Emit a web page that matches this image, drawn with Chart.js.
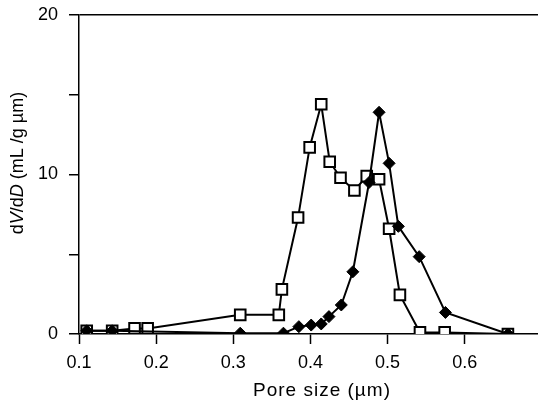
<!DOCTYPE html>
<html>
<head>
<meta charset="utf-8">
<script src="https://cdn.jsdelivr.net/npm/chart.js@4"></script>
<style>
  body { margin: 0; background: #fff; }
  #wrap { width: 538px; height: 402px; }
</style>
</head>
<body>
<div id="wrap"><canvas id="c" width="538" height="402"></canvas></div>
<script>
// Pore size distribution, two samples
const squareX = [0.11, 0.143, 0.172, 0.189, 0.309, 0.359, 0.363, 0.384, 0.399, 0.414, 0.425, 0.439, 0.457, 0.473, 0.489, 0.502, 0.516, 0.542, 0.574, 0.656];
const squareY = [0.2, 0.2, 0.35, 0.35, 1.2, 1.2, 2.8, 7.3, 11.7, 14.4, 10.8, 9.8, 9.0, 9.9, 9.7, 6.6, 2.45, 0.1, 0.1, 0.0];

const diamondX = [0.11, 0.143, 0.309, 0.365, 0.385, 0.401, 0.414, 0.424, 0.44, 0.455, 0.476, 0.489, 0.502, 0.514, 0.541, 0.575, 0.656];
const diamondY = [0.2, 0.2, 0.05, 0.05, 0.46, 0.56, 0.63, 1.09, 1.82, 3.9, 9.5, 13.9, 10.7, 6.75, 4.85, 1.35, 0.0];

const xTicks = [0.1, 0.2, 0.3, 0.4, 0.5, 0.6];
const yLabelled = [0, 10, 20];

const xTitle = 'Pore size (\u00b5m)';
const yTitleParts = [
    { t: 'd', italic: false },
    { t: 'V', italic: true },
    { t: '/d', italic: false },
    { t: 'D', italic: true },
    { t: ' (mL /g \u00b5m)', italic: false }
];

const FONT = '"Liberation Sans", Arial, Helvetica, sans-serif';

function toPoints(xs, ys) {
    return xs.map((x, i) => ({ x: x, y: ys[i] }));
}

// axis titles drawn by hand so V and D can be italic
const titlePlugin = {
    id: 'titles',
    afterDraw(chart) {
        const ctx = chart.ctx;
        ctx.save();
        ctx.fillStyle = '#000';
        ctx.font = '19px ' + FONT;
        ctx.letterSpacing = '1px';
        ctx.textAlign = 'center';
        ctx.textBaseline = 'alphabetic';
        ctx.fillText(xTitle, 322, 396);
        ctx.letterSpacing = '0px';

        ctx.translate(23, 163);
        ctx.rotate(-Math.PI / 2);
        ctx.textAlign = 'left';
        const fonts = yTitleParts.map(p => (p.italic ? 'italic ' : '') + '18px ' + FONT);
        let total = 0;
        yTitleParts.forEach((p, i) => { ctx.font = fonts[i]; total += ctx.measureText(p.t).width; });
        let x = -total / 2;
        yTitleParts.forEach((p, i) => {
            ctx.font = fonts[i];
            ctx.fillText(p.t, x, 0);
            x += ctx.measureText(p.t).width;
        });
        ctx.restore();
    }
};

new Chart(document.getElementById('c'), {
    type: 'scatter',
    data: {
        datasets: [
            {
                label: 'diamond',
                data: toPoints(diamondX, diamondY),
                showLine: true,
                borderColor: '#000',
                borderWidth: 2,
                backgroundColor: '#000',
                pointStyle: 'rectRot',
                pointRadius: 6,
                pointBorderWidth: 1,
                pointBackgroundColor: '#000',
                pointBorderColor: '#000'
            },
            {
                label: 'square',
                data: toPoints(squareX, squareY),
                showLine: true,
                borderColor: '#000',
                borderWidth: 2,
                pointStyle: 'rect',
                pointRadius: 7.5,
                pointBorderWidth: 2,
                pointBackgroundColor: '#fff',
                pointBorderColor: '#000'
            }
        ]
    },
    options: {
        responsive: false,
        animation: false,
        layout: { autoPadding: false, padding: { left: 0, top: 15, right: 0, bottom: 0 } },
        scales: {
            x: {
                type: 'linear',
                min: 0.1,
                max: 0.695,
                afterFit: s => { s.height = 68; s.paddingLeft = 0; s.paddingRight = 0; },
                afterBuildTicks: s => { s.ticks = xTicks.map(v => ({ value: v })); },
                border: { color: '#000', width: 1.5 },
                grid: {
                    drawOnChartArea: false,
                    tickLength: 10,
                    tickColor: '#000',
                    tickWidth: 1.5
                },
                ticks: {
                    color: '#000',
                    padding: 8,
                    font: { size: 18, family: FONT },
                    callback: v => v.toFixed(1)
                }
            },
            y: {
                min: 0,
                max: 20,
                afterFit: s => { s.width = 79; s.paddingTop = 0; s.paddingBottom = 0; },
                border: { color: '#000', width: 1.5 },
                grid: {
                    color: c => (c.tick && c.tick.value === 20 ? '#000' : 'rgba(0,0,0,0)'),
                    lineWidth: 1.5,
                    tickLength: 10,
                    tickColor: '#000',
                    tickWidth: 1.5
                },
                ticks: {
                    stepSize: 5,
                    color: '#000',
                    padding: 11,
                    font: { size: 18, family: FONT },
                    callback: v => (yLabelled.includes(v) ? v : '')
                }
            }
        },
        plugins: {
            legend: { display: false },
            tooltip: { enabled: false }
        }
    },
    plugins: [titlePlugin]
});
</script>
</body>
</html>
